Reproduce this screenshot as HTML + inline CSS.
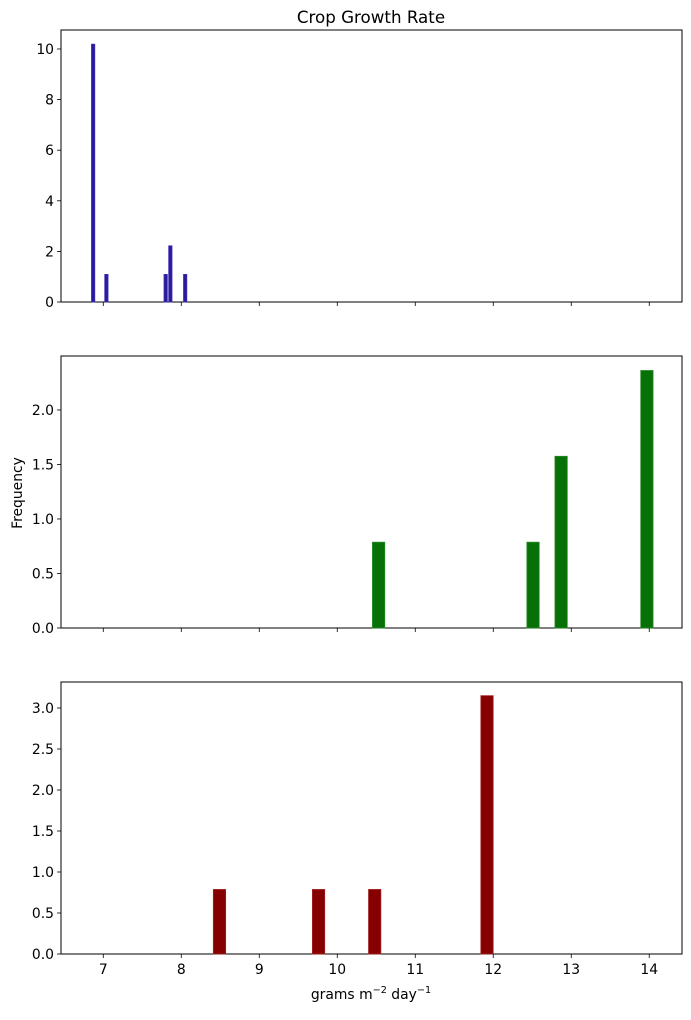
<!DOCTYPE html>
<html><head><meta charset="utf-8"><style>
body{margin:0;background:#fff;font-family:"Liberation Sans","DejaVu Sans",sans-serif;}
svg text{font-family:"DejaVu Sans","Liberation Sans",sans-serif;font-size:13.9px;fill:#000;}
</style></head><body>
<svg id="chart" width="691" height="1015" xmlns="http://www.w3.org/2000/svg">
<text x="371" y="23" text-anchor="middle" style="font-size:16.7px">Crop Growth Rate</text>
<text transform="translate(22,493) rotate(-90)" text-anchor="middle">Frequency</text>
<text x="371" y="999" text-anchor="middle">grams m<tspan dy="-6" style="font-size:9.7px">−2</tspan><tspan dy="6"> day</tspan><tspan dy="-6" style="font-size:9.7px">−1</tspan></text>
</svg>
<script>
const xTicks=[7,8,9,10,11,12,13,14];
const topCenters=[6.87,7.04,7.80,7.86,8.05];
const topValues=[10.19,1.09,1.09,2.22,1.09];
const topTicks=[0,2,4,6,8,10];
const midCenters=[10.53,12.51,12.87,13.97];
const midValues=[0.787,0.787,1.575,2.362];
const midTicks=[0,0.5,1.0,1.5,2.0];
const botCenters=[8.49,9.76,10.48,11.92];
const botValues=[0.787,0.787,0.787,3.15];
const botTicks=[0,0.5,1.0,1.5,2.0,2.5,3.0];

const NS="http://www.w3.org/2000/svg";
const svg=document.getElementById('chart');
const L=61,R=682,xMin=6.458,xMax=14.42;
const xs=v=>L+(v-xMin)/(xMax-xMin)*(R-L);
function mk(t,a){const e=document.createElementNS(NS,t);for(const k in a)e.setAttribute(k,a[k]);svg.appendChild(e);return e;}
function panel(name,top,bottom,yMax,centers,values,ticks,barW,fill,stroke,dec,showX){
  const ys=v=>bottom-v/yMax*(bottom-top);
  const frame=mk('rect',{x:L,y:top,width:R-L,height:bottom-top,fill:'none',stroke:'#000','stroke-width':1});
  
  
  centers.forEach((c,i)=>{
    const b=mk('rect',{x:xs(c)-barW/2,y:ys(values[i]),width:barW,height:bottom-ys(values[i]),fill:fill,stroke:stroke,'stroke-width':0.8});
    
    
  });
  ticks.forEach(t=>{
    const y=ys(t);
    mk('line',{x1:L-4,x2:L,y1:y,y2:y,stroke:'#000','stroke-width':0.8});
    const tx=mk('text',{x:L-7,y:y+5,'text-anchor':'end'});
    tx.textContent=t.toFixed(dec);
    
    
  });
  xTicks.forEach(t=>{
    const x=xs(t);
    mk('line',{x1:x,x2:x,y1:bottom,y2:bottom+4,stroke:'#000','stroke-width':0.8});
    if(showX){
      const tx=mk('text',{x:x,y:bottom+20,'text-anchor':'middle'});
      tx.textContent=t;
      
      
    }
  });
}
panel('top-panel',30,302,10.75,topCenters,topValues,topTicks,3.3,'#2c1a9c','#3a2cb0',0,false);
panel('middle-panel',356,628,2.495,midCenters,midValues,midTicks,12.3,'#077007','#238a23',1,false);
panel('bottom-panel',682,954,3.317,botCenters,botValues,botTicks,12.3,'#870000','#a02020',1,true);
</script>
</body></html>
